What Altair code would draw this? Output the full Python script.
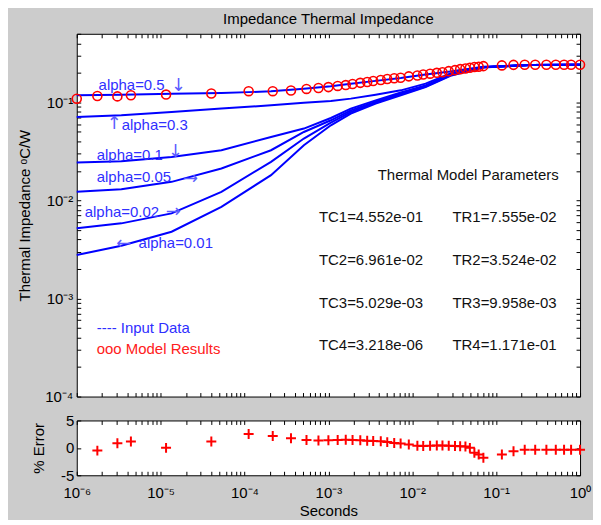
import altair as alt
import pandas as pd

FONT = "Liberation Sans"

# ---------------- data ----------------
curve_t = [1e-6, 3.4e-6, 1.35e-5, 5.3e-5, 2.07e-4, 5.1e-4, 1.07e-3, 1.85e-3,
           3.66e-3, 7.3e-3, 1.44e-2, 2.85e-2, 7.0e-2, 0.255, 1.0]
z_a05 = [0.1178, 0.1198, 0.1220, 0.1243, 0.1294, 0.1372, 0.1455, 0.1543,
         0.1655, 0.1775, 0.1927, 0.2067, 0.2307, 0.2402, 0.2418]
z_a03 = [0.0709, 0.0738, 0.0797, 0.0863, 0.0932, 0.0993, 0.1031, 0.1091,
         0.1198, 0.1325, 0.1550, 0.1972, 0.2286, 0.2402, 0.2418]
z_a01 = [0.02436, 0.02511, 0.02776, 0.03248, 0.04436, 0.05402, 0.06923, 0.0863,
         0.1048, 0.1264, 0.1489, 0.1927, 0.2286, 0.2402, 0.2418]
z_a005 = [0.01224, 0.01303, 0.01546, 0.02116, 0.03248, 0.04986, 0.06561, 0.0829,
          0.1016, 0.1235, 0.1465, 0.1905, 0.2281, 0.2402, 0.2418]
z_a002 = [0.00519, 0.005834, 0.007376, 0.01224, 0.0247, 0.04272, 0.06216, 0.0797,
          0.0993, 0.1206, 0.1445, 0.1883, 0.2276, 0.2402, 0.2418]
z_a001 = [0.002777, 0.003452, 0.004793, 0.008607, 0.01809, 0.03653, 0.05834, 0.07674,
          0.0970, 0.1178, 0.1431, 0.1861, 0.2271, 0.2402, 0.2418]
alphas = ["0.5", "0.3", "0.1", "0.05", "0.02", "0.01"]
curve_sets = [z_a05, z_a03, z_a01, z_a005, z_a002, z_a001]

model_t = [1.0e-6, 1.76e-6, 3.05e-6, 4.42e-6, 1.16e-5, 4.02e-5, 1.12e-4, 2.17e-4,
           3.58e-4, 5.48e-4, 7.61e-4, 1.0e-3,
           1.29e-3, 1.61e-3, 1.94e-3, 2.40e-3, 2.90e-3, 3.42e-3, 4.21e-3, 5.03e-3,
           6.09e-3, 7.26e-3, 9.09e-3,
           1.15e-2, 1.35e-2, 1.63e-2, 1.96e-2, 2.29e-2, 2.72e-2, 3.23e-2, 3.72e-2,
           4.30e-2, 4.86e-2, 5.50e-2, 6.19e-2, 7.04e-2,
           0.117, 0.161, 0.219, 0.292, 0.397, 0.514, 0.645, 0.782, 1.0]
model_z = [0.109, 0.116, 0.115, 0.118, 0.120, 0.123, 0.130, 0.130,
           0.132, 0.137, 0.140, 0.143,
           0.147, 0.150, 0.154, 0.158, 0.161, 0.165, 0.169, 0.173,
           0.176, 0.178, 0.184,
           0.188, 0.192, 0.196, 0.200, 0.203, 0.208, 0.213, 0.218,
           0.221, 0.225, 0.229, 0.231, 0.234,
           0.238, 0.241, 0.242, 0.242, 0.242, 0.242, 0.242, 0.242, 0.242]
model_err = [None, -0.5, 0.85, 1.15, 0.0, 1.15, 2.55, 2.15,
             1.75, 1.45, 1.35, 1.4,
             1.45, 1.5, 1.45, 1.4, 1.3, 1.25, 1.2, 1.05,
             0.9, 0.8, 0.6,
             0.4, 0.35, 0.4, 0.45, 0.45, 0.4, 0.35, 0.3,
             0.25, 0.0, -0.9, -1.2, -1.8,
             -1.2, -0.6, -0.35, -0.35, -0.35, -0.35, -0.35, -0.35, -0.35]

# annotations (anchor in data units)
ann_text = ["alpha=0.5", "alpha=0.3", "alpha=0.1", "alpha=0.05", "alpha=0.02", "alpha=0.01"]
ann_t = [1.82e-6, 3.43e-6, 1.73e-6, 1.73e-6, 1.245e-6, 5.46e-6]
ann_z = [0.149, 0.0583, 0.0289, 0.01726, 0.0076, 0.00368]

arrow_text = ["\u2193", "\u2191", "\u2193", "\u2192", "\u2192", "\u2190"]
arrow_t = [1.33e-5, 2.28e-6, 1.22e-5, 1.85e-5, 1.15e-5, 2.95e-6]
arrow_z = [0.1455, 0.0597, 0.031, 0.0165, 0.00766, 0.00359]

legend_text = ["---- Input Data", "ooo Model Results"]
legend_color = ["#2f2fff", "#ff2020"]
legend_t = [1.73e-6, 1.73e-6]
legend_z = [5.02e-4, 3.07e-4]

param_header = ["Thermal Model Parameters"]
param_header_t = [3.87e-3]
param_header_z = [0.0181]
tc_labels = ["TC1=4.552e-01", "TC2=6.961e-02", "TC3=5.029e-03", "TC4=3.218e-06"]
tr_labels = ["TR1=7.555e-02", "TR2=3.524e-02", "TR3=9.958e-03", "TR4=1.171e-01"]
tc_t = 7.71e-4
tr_t = 3.01e-2
row_z = [0.00681, 0.00247, 9.08e-4, 3.37e-4]

x_decades = [1e-6, 1e-5, 1e-4, 1e-3, 1e-2, 1e-1, 1.0]
x_tick_labels = ["10\u207b\u2076", "10\u207b\u2075", "10\u207b\u2074", "10\u207b\u00b3",
                 "10\u207b\u00b2", "10\u207b\u00b9", "10\u2070"]
y_decades = [1e-4, 1e-3, 1e-2, 1e-1]
y_tick_labels = ["10\u207b\u2074", "10\u207b\u00b3", "10\u207b\u00b2", "10\u207b\u00b9"]
err_ticks = [-5, 0, 5]
err_tick_labels = ["-5", "0", "5"]

# ---------------- tables ----------------
rows = []
for a, zs in zip(alphas, curve_sets):
    for t, z in zip(curve_t, zs):
        rows.append({"series": a, "t": t, "z": z})
curves_df = pd.DataFrame(rows)
model_df = pd.DataFrame({"t": model_t, "z": model_z})
err_df = pd.DataFrame({"t": model_t, "err": model_err}).dropna()
ann_df = pd.DataFrame({"t": ann_t, "z": ann_z, "label": ann_text})
arrow_df = pd.DataFrame({"t": arrow_t, "z": arrow_z, "label": arrow_text})
legend_df = pd.DataFrame({"t": legend_t, "z": legend_z, "label": legend_text, "c": legend_color})
header_df = pd.DataFrame({"t": param_header_t, "z": param_header_z, "label": param_header})
params_df = pd.DataFrame({
    "t": [tc_t] * len(tc_labels) + [tr_t] * len(tr_labels),
    "z": row_z + row_z,
    "label": tc_labels + tr_labels,
})

x_ticks = [round(k * d, 12) for d in x_decades[:-1] for k in range(1, 10)] + [1.0]
y_ticks = [round(k * d, 12) for d in y_decades[:-1] for k in range(1, 10)] + [0.1, 0.2, 0.3, 0.4, 0.5]


def ratio_label_expr(vals, labs):
    expr = "''"
    for v, lab in reversed(list(zip(vals, labs))):
        expr = f"abs(datum.value / {v!r} - 1) < 1e-6 ? '{lab}' : {expr}"
    return expr


def diff_label_expr(vals, labs):
    expr = "''"
    for v, lab in reversed(list(zip(vals, labs))):
        expr = f"abs(datum.value - {v!r}) < 1e-6 ? '{lab}' : {expr}"
    return expr


TICK = 4


def tick_axis(orient, values):
    return alt.Axis(orient=orient, values=values, labels=False, ticks=True,
                    tickSize=TICK, offset=-TICK, domain=False, grid=False,
                    title=None, tickColor="black")


x_scale = alt.Scale(type="log", domain=[1e-6, 1.0], nice=False)
y_scale = alt.Scale(type="log", domain=[1e-4, 0.5], nice=False)
e_scale = alt.Scale(domain=[-5, 5], nice=False)

# ---------------- top panel ----------------
lines = alt.Chart(curves_df).mark_line(color="#0000ff", strokeWidth=2).encode(
    x=alt.X("t:Q", scale=x_scale, axis=tick_axis("bottom", x_ticks)),
    y=alt.Y("z:Q", scale=y_scale, axis=alt.Axis(
        orient="left", values=y_ticks,
        labelExpr=ratio_label_expr(y_decades, y_tick_labels),
        labelOverlap=False, labelPadding=4, labelFontSize=15,
        tickSize=TICK, offset=-TICK, domain=False, grid=False, tickColor="black",
        title="Thermal Impedance  \u1d52C/W", titleFontSize=15,
        titleFontWeight="normal", titlePadding=12)),
    detail="series:N",
    order="t:Q",
)

circles = alt.Chart(model_df).mark_point(
    shape="circle", filled=False, color="#ff0000", size=81, strokeWidth=1.6, opacity=1
).encode(
    x=alt.X("t:Q", scale=x_scale, axis=tick_axis("top", x_ticks)),
    y=alt.Y("z:Q", scale=y_scale, axis=tick_axis("right", y_ticks)),
)


def text_layer(df, color, color_field=None, font=FONT, size=15):
    enc = dict(
        x=alt.X("t:Q", scale=x_scale, axis=None),
        y=alt.Y("z:Q", scale=y_scale, axis=None),
        text="label:N",
    )
    if color_field:
        enc["color"] = alt.Color(f"{color_field}:N", scale=None, legend=None)
    return alt.Chart(df).mark_text(
        align="left", baseline="middle", font=font, fontSize=size, color=color
    ).encode(**enc)


ann = text_layer(ann_df, "#3030ff")
arrows = text_layer(arrow_df, "#5c5cff", font="DejaVu Sans", size=18)
legend_txt = text_layer(legend_df, "#2f2fff", color_field="c")
header_txt = text_layer(header_df, "#111111")
params_txt = text_layer(params_df, "#111111")

top = alt.layer(lines, circles, ann, arrows, legend_txt, header_txt, params_txt).resolve_axis(
    x="independent", y="independent"
).properties(
    width=505, height=364,
    title=alt.TitleParams("Impedance Thermal Impedance", font=FONT, fontSize=15,
                          fontWeight="normal", color="black", offset=0, anchor="middle"),
)

# ---------------- error panel ----------------
err_pts = alt.Chart(err_df).mark_point(
    shape="M-1,0L1,0M0,-1L0,1", filled=False, color="#ff0000", strokeWidth=2, size=100, opacity=1
).encode(
    x=alt.X("t:Q", scale=x_scale, axis=alt.Axis(
        orient="bottom", values=x_ticks,
        labelExpr=ratio_label_expr(x_decades, x_tick_labels),
        labelOverlap=False, labelFlush=False, labelPadding=10, labelFontSize=15,
        tickSize=TICK, offset=-TICK, domain=False, grid=False, tickColor="black",
        title="Seconds", titleFontSize=15, titleFontWeight="normal", titlePadding=3)),
    y=alt.Y("err:Q", scale=e_scale, axis=alt.Axis(
        orient="left", values=err_ticks,
        labelExpr=diff_label_expr(err_ticks, err_tick_labels),
        labelPadding=3, labelFontSize=15,
        tickSize=TICK, offset=-TICK, domain=False, grid=False, tickColor="black",
        title="% Error", titleFontSize=15, titleFontWeight="normal", titlePadding=14)),
)

err_frame = alt.Chart(err_df).mark_point(opacity=0).encode(
    x=alt.X("t:Q", scale=x_scale, axis=tick_axis("top", x_ticks)),
    y=alt.Y("err:Q", scale=e_scale, axis=tick_axis("right", err_ticks)),
)

bottom = alt.layer(err_pts, err_frame).resolve_axis(
    x="independent", y="independent"
).properties(width=505, height=55)

chart = alt.vconcat(top, bottom, spacing=7).properties(
    background="#cccccc",
    padding={"left": 9, "right": 1, "top": 2, "bottom": 0},
).configure_view(
    fill="white", stroke="black", strokeWidth=1
).configure_axis(
    labelFont=FONT, titleFont=FONT, labelColor="black", titleColor="black"
)

chart.save("out.html", embed_options={"renderer": "svg", "actions": False})
